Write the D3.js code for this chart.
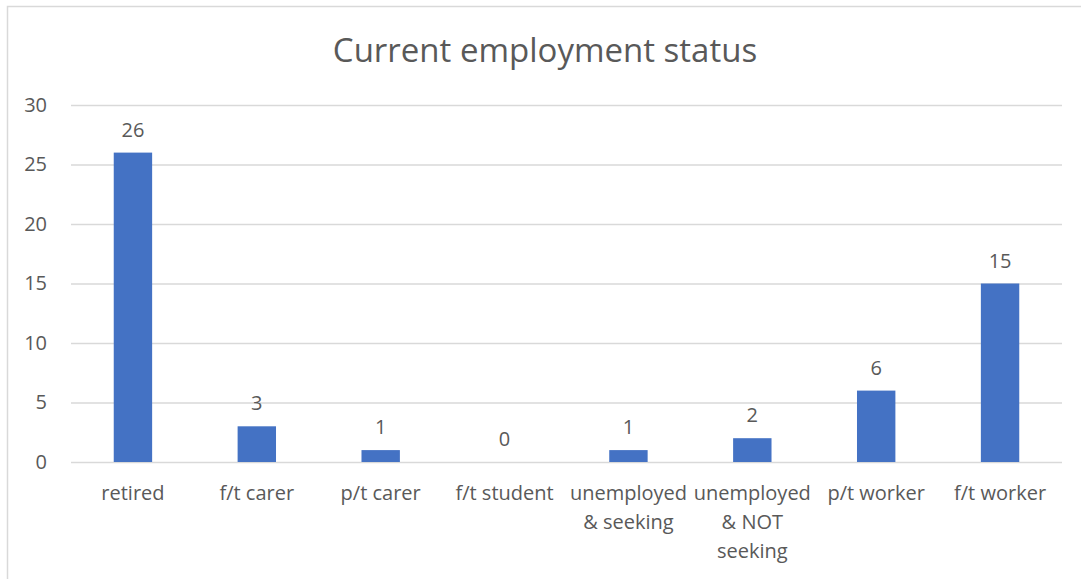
<!DOCTYPE html>
<html>
<head>
<style>
  body { margin: 0; background: #fff; }
  text { font-family: "Open Sans", "Noto Sans", sans-serif; fill: #595959; }
</style>
</head>
<body>
<script src="https://d3js.org/d3.v7.min.js"></script>
<div id="chart"></div>
<script>
  const categories = ["retired", "f/t carer", "p/t carer", "f/t student", "unemployed & seeking", "unemployed & NOT seeking", "p/t worker", "f/t worker"]
  const labelLines = [["retired"], ["f/t carer"], ["p/t carer"], ["f/t student"], ["unemployed", "& seeking"], ["unemployed", "& NOT", "seeking"], ["p/t worker"], ["f/t worker"]]
  const counts = [26, 3, 1, 0, 1, 2, 6, 15]
  const yTicks = [0, 5, 10, 15, 20, 25, 30]

  const width = 1081
  const height = 579
  const padding = { top: 105, left: 71, right: 19, bottom: 117 }

  const svg = d3.select("#chart").append("svg")
    .attr("width", width).attr("height", height)

  // chart frame (runs off right and bottom edges)
  svg.append("rect")
    .attr("x", 7.5).attr("y", 6.5)
    .attr("width", width + 20).attr("height", height + 20)
    .attr("fill", "none").attr("stroke", "#d9d9d9").attr("stroke-width", 1.5)

  svg.append("text")
    .attr("x", 545).attr("y", 62)
    .attr("text-anchor", "middle")
    .style("font-size", "33px")
    .text("Current employment status")

  const xScale = d3.scaleBand()
    .domain(categories)
    .range([padding.left, width - padding.right])
    .paddingInner(0.69)
    .paddingOuter(0.345)

  const yScale = d3.scaleLinear()
    .domain([0, 30])
    .range([height - padding.bottom, padding.top])

  const yAxis = d3.axisLeft(yScale).tickValues(yTicks)
    .tickSize(-(width - padding.left - padding.right)).tickPadding(24)

  const yg = svg.append("g")
    .attr("transform", "translate(" + padding.left + ",0)")
    .call(yAxis)
  yg.select(".domain").remove()
  yg.selectAll(".tick line").attr("stroke", "#d9d9d9").attr("stroke-width", 1.5)
  yg.selectAll(".tick text").style("font-size", "20px").attr("fill", "#595959")

  svg.selectAll("rect.bar")
    .data(counts)
    .enter()
    .append("rect")
    .attr("class", "bar")
    .attr("x", (d, i) => xScale(categories[i]))
    .attr("y", d => yScale(d))
    .attr("width", xScale.bandwidth())
    .attr("height", d => yScale(0) - yScale(d))
    .attr("fill", "#4472c4")

  svg.selectAll("text.val")
    .data(counts)
    .enter()
    .append("text")
    .attr("class", "val")
    .attr("x", (d, i) => xScale(categories[i]) + xScale.bandwidth() / 2)
    .attr("y", d => yScale(d) - 16)
    .attr("text-anchor", "middle")
    .style("font-size", "20px")
    .text(d => d)

  const cat = svg.selectAll("text.cat")
    .data(labelLines)
    .enter()
    .append("text")
    .attr("class", "cat")
    .attr("text-anchor", "middle")
    .style("font-size", "20px")

  cat.each(function (lines, i) {
    const cx = xScale(categories[i]) + xScale.bandwidth() / 2
    d3.select(this).selectAll("tspan")
      .data(lines)
      .enter()
      .append("tspan")
      .attr("x", cx)
      .attr("y", (l, j) => 500 + j * 29)
      .text(l => l)
  })
</script>
</body>
</html>
